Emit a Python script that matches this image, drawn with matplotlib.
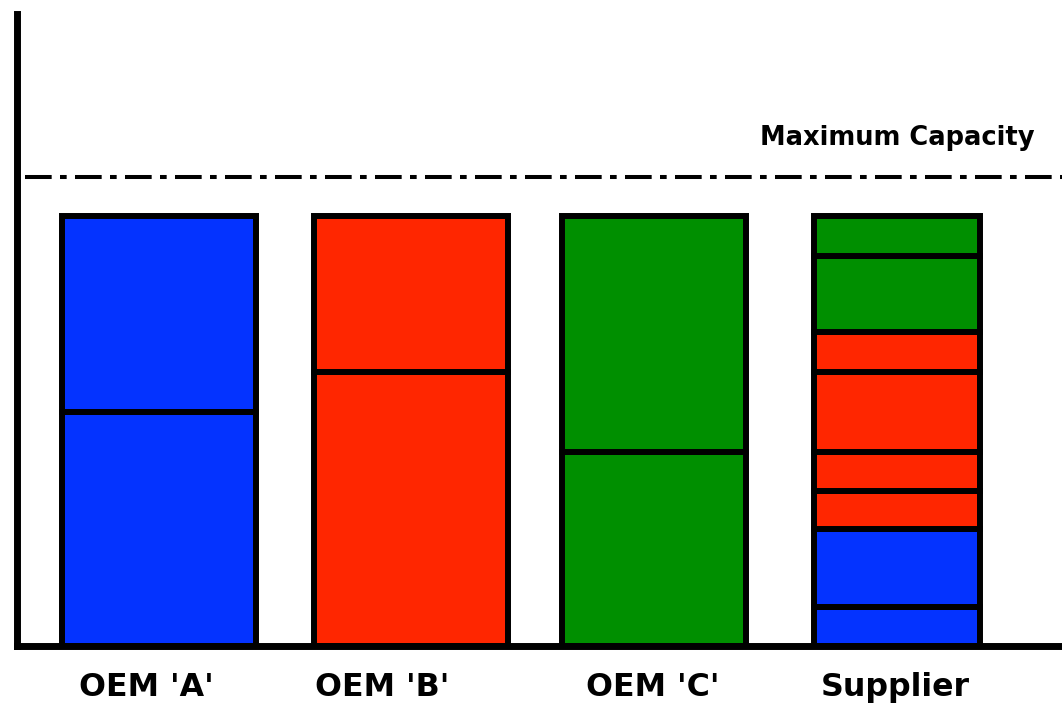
import matplotlib
matplotlib.use("Agg")
import matplotlib.pyplot as plt
from matplotlib.transforms import blended_transform_factory

plt.rcParams['lines.scale_dashes'] = False

# Data (segment heights, bottom to top, bar total = 100)
categories = ["OEM 'A'", "OEM 'B'", "OEM 'C'", "Supplier"]
oem_a = [54.5, 45.5]
oem_b = [63.8, 36.2]
oem_c = [45.2, 54.8]
supplier = [9.1, 18.1, 9.0, 8.9, 18.6, 9.3, 17.7, 9.3]
supplier_owner = ['A', 'A', 'B', 'B', 'B', 'B', 'C', 'C']
max_capacity = 109.1

# Styles / layout (pixel units from left axis)
colors = {'A': '#0433FF', 'B': '#FF2600', 'C': '#008F00'}
bar_x = [142.25, 394.5, 637.5, 880.25]
bar_w = [193.5, 194, 184, 166.5]
label_x = [130, 365.5, 636, 879]
px_per_unit = 4.3

fig = plt.figure(figsize=(10.62, 7.04), dpi=100)
W, H = 1062, 704
left_px, bottom_px, top_px = 16.5, 646.3, 13.5
ax = fig.add_axes([left_px / W, (H - bottom_px) / H,
                   (W - left_px + 10) / W, (bottom_px - top_px) / H])
ax.set_xlim(0, W - left_px + 10)
ax.set_ylim(0, (bottom_px - top_px) / px_per_unit)

# stacked bars
stacks = [(oem_a, ['A', 'A']), (oem_b, ['B', 'B']), (oem_c, ['C', 'C']),
          (supplier, supplier_owner)]
for i, (vals, owners) in enumerate(stacks):
    base = 0
    for v, o in zip(vals, owners):
        ax.bar(bar_x[i], v, width=bar_w[i], bottom=base, color=colors[o],
               edgecolor='black', linewidth=4.3, zorder=2)
        base += v

# maximum capacity line
ax.plot([8.5, W], [max_capacity, max_capacity], color='black', lw=2.9,
        dashes=(19.2, 6, 4.8, 6), solid_capstyle='butt', zorder=3)
fig.text(897 / W, (H - 145) / H, 'Maximum Capacity', ha='center',
         va='baseline', fontsize=18.5, fontweight='bold')

# axes styling
for s in ['top', 'right']:
    ax.spines[s].set_visible(False)
ax.spines['left'].set_linewidth(5)
ax.spines['bottom'].set_linewidth(5)
ax.set_xticks([])
ax.set_yticks([])

trans = blended_transform_factory(ax.transData, fig.transFigure)
for x, lab in zip(label_x, categories):
    ax.text(x, (H - 696) / H, lab, transform=trans, ha='center',
            va='baseline', fontsize=22.8, fontweight='bold', clip_on=False)

fig.savefig('out.png', dpi=100)
